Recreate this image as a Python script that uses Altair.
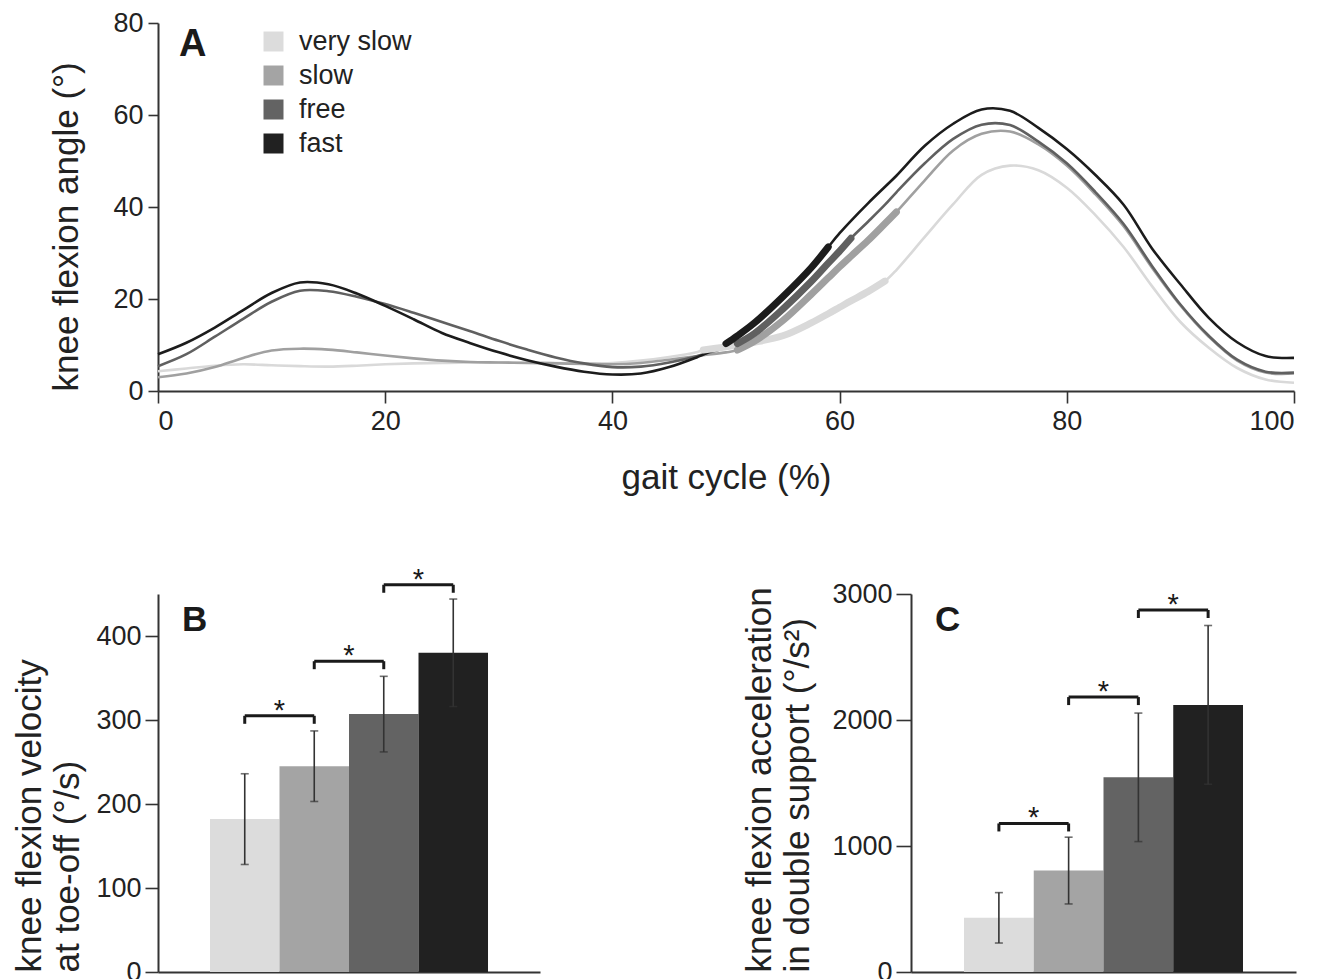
import altair as alt
import pandas as pd

FONT = "Liberation Sans"

speeds = ["very slow", "slow", "free", "fast"]
bar_colors = ["#dcdcdc", "#a4a4a4", "#636363", "#212121"]
line_colors = ["#d9d9d9", "#a0a0a0", "#606060", "#1c1c1c"]

# Panel A: knee flexion angle over the gait cycle
gait = [0, 2.5, 5, 7.5, 10, 12.5, 15, 17.5, 20, 22.5, 25, 27.5, 30, 32.5, 35, 37.5,
        40, 42.5, 45, 47.5, 48, 50, 51, 52.5, 55, 57.5, 59, 60, 61, 62.5, 64, 65,
        67.5, 70, 72.5, 75, 77.5, 80, 82.5, 85, 87.5, 90, 92.5, 95, 97.5, 100]
angle_very_slow = [4.3, 4.9, 5.5, 5.8, 5.6, 5.4, 5.3, 5.5, 5.8, 6.0, 6.1, 6.2, 6.2, 6.2, 6.1, 6.0,
                   6.1, 6.6, 7.4, 8.5, 8.9, 9.6, 10.0, 10.6, 12.0, 14.8, 16.8, 18.2, 19.6, 21.6, 23.9, 26.3,
                   33.5, 40.6, 47.0, 49.0, 48.0, 44.2, 38.3, 31.3, 22.8, 15.0, 9.4, 5.0, 2.5, 1.8]
angle_slow = [3.0, 3.8, 5.2, 7.2, 8.8, 9.2, 9.0, 8.4, 7.7, 7.1, 6.6, 6.3, 6.2, 6.1, 6.0, 5.9,
              5.8, 6.1, 6.8, 7.6, 7.8, 8.4, 8.9, 10.8, 15.3, 21.0, 24.6, 27.0, 29.3, 32.7, 36.4, 38.9,
              45.8, 52.3, 55.9, 56.4, 53.6, 49.0, 42.8, 35.8, 26.8, 18.6, 11.8, 6.6, 4.0, 3.8]
angle_free = [5.4, 8.0, 11.8, 15.7, 19.4, 21.8, 21.7, 20.5, 18.9, 17.0, 15.0, 13.0, 10.9, 9.0, 7.3, 6.0,
              5.2, 5.3, 6.2, 7.6, 8.0, 9.4, 10.3, 12.5, 17.8, 23.8, 27.8, 30.4, 33.2, 36.8, 40.5, 43.2,
              49.5, 54.8, 57.9, 57.8, 54.2, 49.5, 43.3, 36.3, 27.2, 18.8, 12.0, 6.8, 4.2, 4.0]
angle_fast = [8.0, 10.5, 13.8, 17.6, 21.3, 23.6, 23.2, 21.2, 18.5, 15.6, 12.6, 10.4, 8.4, 6.7, 5.3, 4.2,
              3.6, 3.8, 5.2, 7.4, 7.9, 10.3, 12.0, 14.8, 20.5, 26.8, 31.3, 34.3, 37.0, 40.8, 44.4, 46.8,
              53.3, 58.1, 61.2, 60.9, 57.2, 52.6, 47.0, 40.5, 31.0, 23.2, 15.9, 10.6, 7.6, 7.2]
ds_start = [48, 51, 51, 50]   # start of double support (%)
toe_off = [64, 65, 61, 59]    # toe-off (%)

# Panel B: knee flexion velocity at toe-off
vel_mean = [182, 245, 307, 380]
vel_sd = [54, 42, 45, 64]
vel_sig_h = [305, 370, 461]

# Panel C: knee flexion acceleration in double support
acc_mean = [430, 805, 1545, 2120]
acc_sd = [200, 265, 510, 630]
acc_sig_h = [1179, 2182, 2873]

sig_from = ["very slow", "slow", "free"]
sig_to = ["slow", "free", "fast"]

# ---------- tables ----------
series = [angle_very_slow, angle_slow, angle_free, angle_fast]
rows = []
for s, vals, a, b in zip(speeds, series, ds_start, toe_off):
    for g, v in zip(gait, vals):
        rows.append({"speed": s, "gait": g, "angle": v, "ds": 1 if a <= g <= b else 0})
df_lines = pd.DataFrame(rows)

color_scale = alt.Scale(domain=speeds, range=bar_colors)

# ---------- Panel A ----------
xA = alt.X("gait:Q", scale=alt.Scale(domain=[0, 100], nice=False),
           axis=alt.Axis(values=[0, 20, 40, 60, 80, 100], title="gait cycle (%)",
                         tickSize=12, labelPadding=5, titlePadding=26))
yA = alt.Y("angle:Q", scale=alt.Scale(domain=[0, 80], nice=False),
           axis=alt.Axis(values=[0, 20, 40, 60, 80], title="knee flexion angle (°)",
                         titleAnchor="start", tickSize=10, labelPadding=5, titlePadding=28))

layersA = []
for s, c in zip(speeds, line_colors):
    layersA.append(
        alt.Chart(df_lines).transform_filter(alt.datum.speed == s)
        .mark_line(color=c, strokeWidth=2.6, interpolate="catmull-rom")
        .encode(x=xA, y=yA)
    )
for s, c in zip(speeds, line_colors):
    layersA.append(
        alt.Chart(df_lines).transform_filter((alt.datum.speed == s) & (alt.datum.ds == 1))
        .mark_line(color=c, strokeWidth=7, interpolate="catmull-rom", strokeCap="round")
        .encode(x=xA, y=yA)
    )
legend_layer = (
    alt.Chart(df_lines).transform_filter("false")
    .mark_point(shape="square", filled=True, opacity=1)
    .encode(
        x=xA, y=yA,
        color=alt.Color("speed:N", scale=color_scale,
                        legend=alt.Legend(title=None, orient="none", legendX=102, legendY=5,
                                          symbolType="square", symbolSize=400,
                                          symbolStrokeWidth=0, symbolOpacity=1,
                                          labelFontSize=27, labelFont=FONT, labelColor="#222",
                                          rowPadding=6, labelOffset=12))
    )
)
labelA = alt.Chart(pd.DataFrame({"label": ["A"]})).mark_text(
    fontSize=38, fontWeight="bold", font=FONT, align="left", baseline="alphabetic", color="#1a1a1a"
).encode(text="label:N", x=alt.value(21), y=alt.value(33))
panelA = alt.layer(*layersA, legend_layer, labelA).properties(width=1136, height=368)


# ---------- bar panels ----------
def bar_panel(means, sds, sig_h, domain_max, ticks, title, letter, pad_outer, title_pad, tick_size):
    dfb = pd.DataFrame({"speed": speeds, "mean": means,
                        "lo": [m - s for m, s in zip(means, sds)],
                        "hi": [m + s for m, s in zip(means, sds)]})
    dfs = pd.DataFrame({"a": sig_from, "b": sig_to, "h": sig_h})
    xs = alt.Scale(domain=speeds, paddingInner=0, paddingOuter=pad_outer)
    xaxis = alt.Axis(title=None, labels=False, ticks=False)
    ys = alt.Scale(domain=[0, domain_max], nice=False)
    yaxis = alt.Axis(values=ticks, title=title, titleAnchor="start", tickSize=tick_size, format="d",
                     labelPadding=4, titlePadding=title_pad, titleLineHeight=38)

    def X(f, **kw):
        return alt.X(f + ":N", sort=speeds, scale=xs, axis=xaxis, **kw)

    def Y(f):
        return alt.Y(f + ":Q", scale=ys, axis=yaxis)

    bars = alt.Chart(dfb).mark_bar().encode(
        x=X("speed"), y=Y("mean"),
        color=alt.Color("speed:N", scale=color_scale, legend=None))
    err = alt.Chart(dfb).mark_rule(color="#333", strokeWidth=1.6).encode(
        x=X("speed"), y=Y("lo"), y2="hi:Q")
    cap_lo = alt.Chart(dfb).mark_tick(color="#333", thickness=1.6, size=8).encode(
        x=X("speed"), y=Y("lo"))
    cap_hi = alt.Chart(dfb).mark_tick(color="#333", thickness=1.6, size=8).encode(
        x=X("speed"), y=Y("hi"))
    br = alt.Chart(dfs).mark_rule(color="#1a1a1a", strokeWidth=3).encode(
        x=X("a"), x2="b:N", y=Y("h"))
    br_l = alt.Chart(dfs).mark_rule(color="#1a1a1a", strokeWidth=3, y2Offset=8).encode(
        x=X("a"), y=Y("h"), y2="h:Q")
    br_r = alt.Chart(dfs).mark_rule(color="#1a1a1a", strokeWidth=3, y2Offset=8).encode(
        x=X("b"), y=Y("h"), y2="h:Q")
    stars = alt.Chart(dfs).mark_text(text="*", fontSize=29, font=FONT, dy=4,
                                     baseline="alphabetic", color="#1a1a1a").encode(
        x=X("b", bandPosition=0), y=Y("h"))
    lab = alt.Chart(pd.DataFrame({"label": [letter]})).mark_text(
        fontSize=35, fontWeight="bold", font=FONT, align="left", baseline="alphabetic",
        color="#1a1a1a").encode(text="label:N", x=alt.value(24), y=alt.value(37))
    return alt.layer(bars, err, cap_lo, cap_hi, br, br_l, br_r, stars, lab)


panelB = bar_panel(vel_mean, vel_sd, vel_sig_h, 450, [0, 100, 200, 300, 400],
                   ["knee flexion velocity", "at toe-off (°/s)"], "B", 0.748, 10, 13
                   ).properties(width=382, height=378)
panelC = bar_panel(acc_mean, acc_sd, acc_sig_h, 3000, [0, 1000, 2000, 3000],
                   ["knee flexion acceleration", "in double support (°/s²)"], "C", 0.76, 16, 15
                   ).properties(width=385, height=378)

bottom = alt.hconcat(panelB, panelC, spacing=371, bounds="flush").resolve_scale(color="independent")

chart = (
    alt.vconcat(panelA, bottom, spacing=203, bounds="flush")
    .resolve_scale(color="independent")
    .properties(padding={"left": 4, "top": 1, "right": 5, "bottom": 5})
    .configure_view(stroke=None)
    .configure_axis(labelFont=FONT, titleFont=FONT, labelFontSize=27, titleFontSize=35,
                    titleFontWeight="normal", labelColor="#222", titleColor="#222",
                    domainColor="#333", tickColor="#333", domainWidth=2, tickWidth=1.6,
                    grid=False)
)

chart.save("out.html", embed_options={"renderer": "svg", "actions": False})
